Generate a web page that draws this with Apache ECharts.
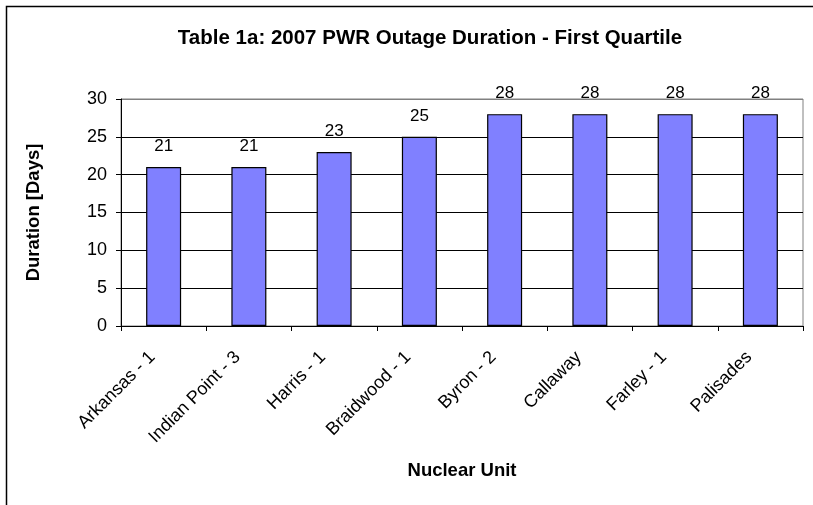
<!DOCTYPE html>
<html>
<head>
<meta charset="utf-8">
<script src="https://cdn.jsdelivr.net/npm/echarts@6/dist/echarts.min.js"></script>
<style>html,body{margin:0;padding:0;background:#fff}#c{width:813px;height:505px}</style>
</head>
<body>
<div id="c"></div>
<script>
var categories = ['Arkansas - 1', 'Indian Point - 3', 'Harris - 1', 'Braidwood - 1', 'Byron - 2', 'Callaway', 'Farley - 1', 'Palisades'];
var durations = [21, 21, 23, 25, 28, 28, 28, 28];
var yTicks = [0, 5, 10, 15, 20, 25, 30];
var titleText = 'Table 1a: 2007 PWR Outage Duration - First Quartile';
var yName = 'Duration [Days]';
var xName = 'Nuclear Unit';

var font = '"Liberation Sans", Arial, sans-serif';
var chart = echarts.init(document.getElementById('c'), null, {renderer: 'canvas'});
chart.setOption({
  animation: false,
  backgroundColor: '#fff',
  graphic: [{
    type: 'rect', left: 4, top: 4,
    shape: {x: 0, y: 0, width: 900, height: 700},
    style: {fill: 'none', stroke: '#000', lineWidth: 1.5},
    silent: true
  }],
  title: {
    text: titleText, left: 425, top: 23, textAlign: 'center',
    textStyle: {fontFamily: font, fontWeight: 'bold', fontSize: 20.5, color: '#000'}
  },
  grid: {left: 121, right: 10, top: 99, bottom: 179, show: true, borderColor: '#808080', borderWidth: 1, containLabel: false},
  xAxis: {
    type: 'category', data: categories,
    name: xName, nameLocation: 'middle', nameGap: 135,
    nameTextStyle: {fontFamily: font, fontWeight: 'bold', fontSize: 18.5, color: '#000'},
    axisLine: {show: true, lineStyle: {color: '#000', width: 1}},
    axisTick: {show: true, alignWithLabel: false, interval: 0, length: 5, lineStyle: {color: '#000'}},
    axisLabel: {interval: 0, rotate: 45, margin: 17, padding: [0, 16, 0, 0], fontFamily: font, fontSize: 18, color: '#000'},
    splitLine: {show: false}
  },
  yAxis: {
    type: 'value', min: 0, max: 30, interval: 5,
    name: yName, nameLocation: 'middle', nameGap: 78, nameRotate: 90,
    nameTextStyle: {fontFamily: font, fontWeight: 'bold', fontSize: 18.5, color: '#000'},
    axisLine: {show: true, lineStyle: {color: '#000', width: 1}},
    axisTick: {show: true, length: 5, lineStyle: {color: '#000'}},
    axisLabel: {margin: 14, fontFamily: font, fontSize: 18, color: '#000',
      formatter: function (v) { return yTicks.indexOf(v) >= 0 ? String(v) : ''; }},
    splitLine: {show: true, lineStyle: {color: ['#000', '#000', '#000', '#000', '#000', '#000', '#808080'], width: 1}}
  },
  series: [{
    type: 'bar', data: durations,
    barWidth: 35,
    itemStyle: {color: '#8080FF', borderColor: '#000', borderWidth: 1.2},
    label: {show: true, position: 'top', distance: 12, fontFamily: font, fontSize: 17, color: '#000'}
  }]
});
</script>
</body>
</html>
